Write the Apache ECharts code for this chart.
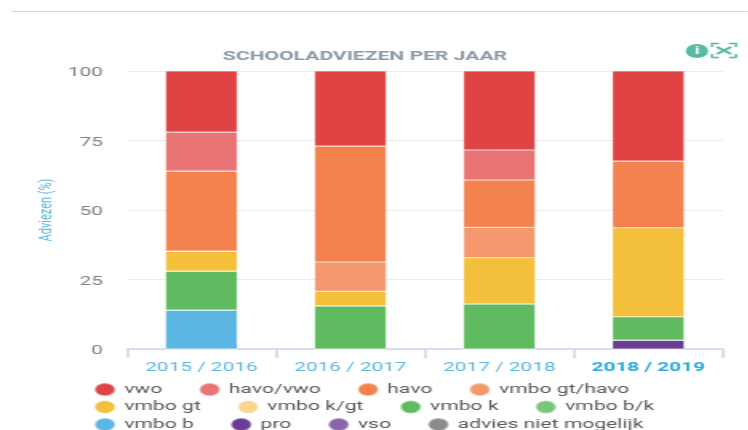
<!DOCTYPE html>
<html>
<head>
<meta charset="utf-8">
<script src="https://cdn.jsdelivr.net/npm/echarts@6/dist/echarts.min.js"></script>
<style>
html, body { margin: 0; padding: 0; background: #fff; overflow: hidden; }
/* the reference is a horizontally stretched screenshot, so stretch the chart the same way */
#chart { width: 467.5px; height: 430px; transform-origin: 0 0; transform: scaleX(1.6); }
</style>
</head>
<body>
<div id="chart"></div>
<script>
var years = ['2015 / 2016', '2016 / 2017', '2017 / 2018', '2018 / 2019']
var names = ['vwo', 'havo/vwo', 'havo', 'vmbo gt/havo', 'vmbo gt', 'vmbo k/gt', 'vmbo k', 'vmbo b/k', 'vmbo b', 'pro', 'vso', 'advies niet mogelijk']
var colors = ['#e04344', '#e87474', '#f3824f', '#f5986e', '#f4bf3b', '#f8d68c', '#60bb60', '#7cc67c', '#5cb6e3', '#6a3d94', '#8a66a8', '#8c8c8c']

var vwo = [22, 27, 28.4, 32.4]
var havoVwo = [14, 0, 10.8, 0]
var havo = [28.8, 41.7, 17, 24]
var gtHavo = [0, 10.5, 11, 0]
var vmboGt = [7.2, 5.3, 16.6, 32]
var kGt = [0, 0, 0, 0]
var vmboK = [14, 15.5, 16.2, 8.4]
var bK = [0, 0, 0, 0]
var vmboB = [14, 0, 0, 0]
var pro = [0, 0, 0, 3.2]
var vso = [0, 0, 0, 0]
var nietMogelijk = [0, 0, 0, 0]
var values = [vwo, havoVwo, havo, gtHavo, vmboGt, kGt, vmboK, bK, vmboB, pro, vso, nietMogelijk]

var sx = 1.6 // horizontal stretch of the page
var font = 'Roboto'
var green = '#59b9a2'
var circle = 'path://M0 10a10 10 0 1 0 20 0a10 10 0 1 0 -20 0z'

// first legend entry sits on top of the stack, so build bottom up
var series = []
for (var i = names.length - 1; i >= 0; i--) {
    series.push({
        name: names[i],
        type: 'bar',
        stack: 'advies',
        barWidth: 72 / sx,
        data: values[i],
        itemStyle: { color: colors[i], borderColor: 'rgba(255,255,255,0.4)', borderWidth: 0.6 }
    })
}

var chart = echarts.init(document.getElementById('chart'))
chart.setOption({
    animation: false,
    title: {
        text: 'SCHOOLADVIEZEN PER JAAR',
        left: 357 / sx,
        textAlign: 'center',
        top: 45,
        textStyle: { fontFamily: font, fontSize: 13.2, fontWeight: 'bold', color: '#8c9aa6' }
    },
    grid: { left: 127 / sx, right: 26 / sx, top: 71, bottom: 81 },
    xAxis: {
        type: 'category',
        data: years.map(function (y, i) {
            return i === years.length - 1 ? { value: y, textStyle: { fontWeight: 'bold', color: '#2aa9e0' } } : y
        }),
        axisLine: { show: true, lineStyle: { color: '#ccd6eb', width: 1.5 } },
        axisTick: { show: true, length: 9, lineStyle: { color: '#ccd6eb', width: 1.5 } },
        axisLabel: { fontFamily: font, fontSize: 13, color: '#5cb6e3', margin: 12 }
    },
    yAxis: {
        type: 'value',
        min: 0,
        max: 100,
        interval: 25,
        name: 'Adviezen (%)',
        nameLocation: 'middle',
        nameGap: 45,
        nameMoveOverlap: false,
        nameTextStyle: { fontFamily: font, fontSize: 11, color: '#5cb6e3' },
        axisLine: { show: false },
        axisTick: { show: false },
        axisLabel: { fontFamily: font, fontSize: 13, color: '#7f7f7f', margin: 15, verticalAlign: 'top', lineHeight: 4 },
        splitLine: { lineStyle: { color: '#ececf0', width: 1 } }
    },
    legend: {
        data: names,
        left: 93 / sx,
        top: 382,
        width: 400,
        padding: 0,
        itemGap: 2.5,
        itemWidth: 14,
        itemHeight: 13,
        icon: circle,
        // itemGap is shared with the row pitch, trailing spaces give the wider column gap
        formatter: function (name) { return name + '      ' },
        textStyle: { fontFamily: font, fontSize: 13.2, color: '#5a5a5a' }
    },
    graphic: [
        { type: 'line', shape: { x1: 11 / sx, y1: 11.5, x2: 748 / sx, y2: 11.5 }, style: { stroke: '#d6d6d6', lineWidth: 1 } },
        { type: 'circle', shape: { cx: 697 / sx, cy: 51, r: 7 }, style: { fill: green } },
        { type: 'text', x: 697 / sx, y: 51, style: { text: 'i', fill: '#fff', fontFamily: font, fontSize: 11, fontWeight: 'bold', align: 'center', verticalAlign: 'middle' } },
        { type: 'polyline', shape: { points: [[712 / sx, 47], [712 / sx, 43.5], [719 / sx, 43.5]] }, style: { stroke: green, fill: 'none', lineWidth: 1.5 } },
        { type: 'polyline', shape: { points: [[729 / sx, 43.5], [736 / sx, 43.5], [736 / sx, 47]] }, style: { stroke: green, fill: 'none', lineWidth: 1.5 } },
        { type: 'polyline', shape: { points: [[712 / sx, 54], [712 / sx, 57.5], [719 / sx, 57.5]] }, style: { stroke: green, fill: 'none', lineWidth: 1.5 } },
        { type: 'polyline', shape: { points: [[729 / sx, 57.5], [736 / sx, 57.5], [736 / sx, 54]] }, style: { stroke: green, fill: 'none', lineWidth: 1.5 } },
        { type: 'line', shape: { x1: 717 / sx, y1: 47, x2: 731 / sx, y2: 54 }, style: { stroke: green, lineWidth: 2.2 } },
        { type: 'line', shape: { x1: 731 / sx, y1: 47, x2: 717 / sx, y2: 54 }, style: { stroke: green, lineWidth: 2.2 } }
    ],
    series: series
})
</script>
</body>
</html>
